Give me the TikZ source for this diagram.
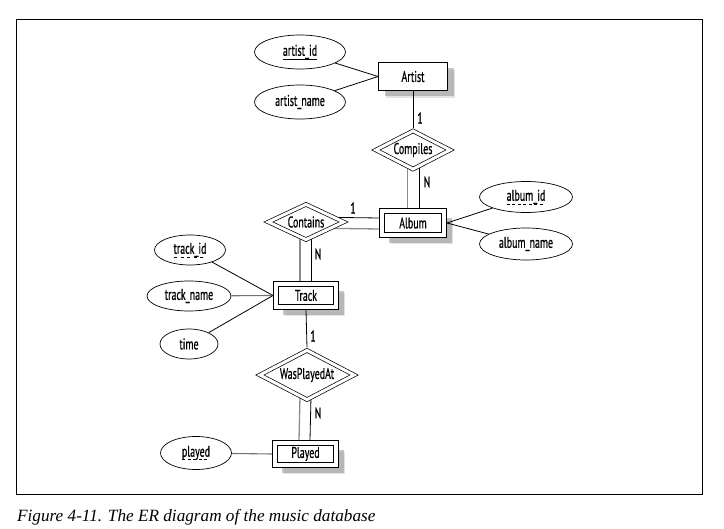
\documentclass[tikz,border=0pt]{standalone}
\usepackage{fontspec}
\setsansfont{PT Sans}[FakeStretch=0.64,FakeBold=0.6]
\newfontfamily\capfont{Liberation Serif}
\usetikzlibrary{shapes.geometric,shadows,backgrounds}
\newbox\myulbox
\newcommand\dul[1]{\setbox\myulbox=\hbox{#1}\rlap{\hbox to\wd\myulbox{\xleaders\hbox{\rule[-3.5pt]{3pt}{0.7pt}\hspace{2.5pt}}\hfill}}\box\myulbox}
\newcommand\sul[1]{\setbox\myulbox=\hbox{#1}\rlap{\rule[-3.5pt]{\wd\myulbox}{0.7pt}}\box\myulbox}
\begin{document}
\begin{tikzpicture}[x=1pt,y=-1pt,
  font=\sffamily\fontsize{15.5}{17}\selectfont,
  shd/.style={drop shadow={shadow xshift=#1+1.5pt,shadow yshift=-#1-1.5pt,fill=black!22},
              drop shadow={shadow xshift=#1,shadow yshift=-#1,fill=black!45}},
  entbox/.style={draw, fill=white, line width=0.9pt, rectangle, inner sep=0},
  sentity/.style={entbox, shd=6pt},
  wentity/.style={entbox, shd=7.5pt, double, double distance=3.8pt, outer sep=2.8pt},
  attr/.style={draw, ellipse, line width=0.7pt, inner sep=0, fill=white},
  rel/.style={draw, diamond, shape aspect=1.85, fill=white, double, double distance=3pt, line width=0.7pt, inner sep=0, outer sep=2.2pt},
  card/.style={inner sep=0},
  gl/.style={draw=black!45, line width=1.3pt},
  bl/.style={draw=black, line width=0.8pt},
  gla/.style={draw=black!55, line width=1.1pt}]
\useasboundingbox (0,0) rectangle (724,529);
\draw[line width=1pt] (16,20) rectangle (702,495);

% entities
\node[sentity, minimum width=69pt, minimum height=28pt] (artist) at (413,76.5) {Artist};
\node[wentity, minimum width=62.4pt, minimum height=24.4pt] (album) at (413,223) {Album};
\node[wentity, minimum width=60.4pt, minimum height=23.4pt] (track) at (306,295.5) {Track};
\node[wentity, minimum width=61.4pt, minimum height=22.4pt] (played) at (305.5,454) {Played};

% relationships
\node[rel, minimum width=76pt, minimum height=40pt] (compiles) at (413,150) {Compiles};
\node[rel, minimum width=77pt, minimum height=37pt] (contains) at (306,222) {Contains};
\node[rel, minimum width=96pt, minimum height=51pt] (wpa) at (307,375) {WasPlayedAt};

% attributes
\node[attr, minimum width=91pt, minimum height=34pt] (artistid) at (300,52) {\sul{artist\_id}};
\node[attr, minimum width=91pt, minimum height=34pt] (artistname) at (300,102) {artist\_name};
\node[attr, minimum width=93pt, minimum height=31pt] (albumid) at (526,197) {\dul{album\_id}};
\node[attr, minimum width=93pt, minimum height=32pt] (albumname) at (526,244) {album\_name};
\node[attr, minimum width=71pt, minimum height=30pt] (trackid) at (190,250) {\dul{track\_id}};
\node[attr, minimum width=84pt, minimum height=30pt] (trackname) at (189,296) {track\_name};
\node[attr, minimum width=58pt, minimum height=30pt] (time) at (189,344) {time};
\node[attr, minimum width=71pt, minimum height=33pt] (playedattr) at (196,453) {\dul{played}};

% double (total participation) connectors
\begin{scope}[on background layer]
\draw[gl] ([xshift=-5.5pt]compiles.center) -- ([xshift=-5.5pt]album.north);
\draw[bl] ([xshift=6pt]compiles.center) -- ([xshift=6pt]album.north);
\draw[bl] ([yshift=5pt]contains.center) -- ([yshift=5pt]album.west);
\draw[gl] ([yshift=-6pt]contains.center) -- ([yshift=-6pt]album.west);
\draw[gl] ([xshift=-6pt]contains.center) -- ([xshift=-6pt]track.north);
\draw[bl] ([xshift=5pt]contains.center) -- ([xshift=5pt]track.north);
\draw[gl] ([xshift=-6.5pt]wpa.center) -- ([xshift=-6.5pt]played.north);
\draw[bl] ([xshift=4.5pt]wpa.center) -- ([xshift=4.5pt]played.north);
\end{scope}

% single connectors
\draw[bl] (artist.south) -- (compiles.north);
\draw[bl] (track.south) -- (wpa.north);
\draw[bl] (artistid) -- (artist.west);
\draw[bl] (artistname) -- (artist.west);
\draw[bl] (albumid) -- (album.east);
\draw[bl] (albumname) -- (album.east);
\draw[bl] (trackid) -- (track.west);
\draw[gla] (trackname) -- (track.west);
\draw[bl] (time) -- (track.west);
\draw[gla] (playedattr) -- (played.west);

% cardinalities
\node[card] (c1) at (420,118) {1};
\node[card] (c2) at (427,182) {N};
\node[card] (c3) at (353,208) {1};
\node[card] (c4) at (318,254) {N};
\node[card] (c5) at (313,336) {1};
\node[card] (c6) at (318,413) {N};

% caption
\node[anchor=base west, inner sep=0, font=\capfont\itshape\fontsize{17.2}{20}\selectfont] (caption) at (17,522) {Figure 4-11. The ER diagram of the music database};
\end{tikzpicture}
\end{document}
